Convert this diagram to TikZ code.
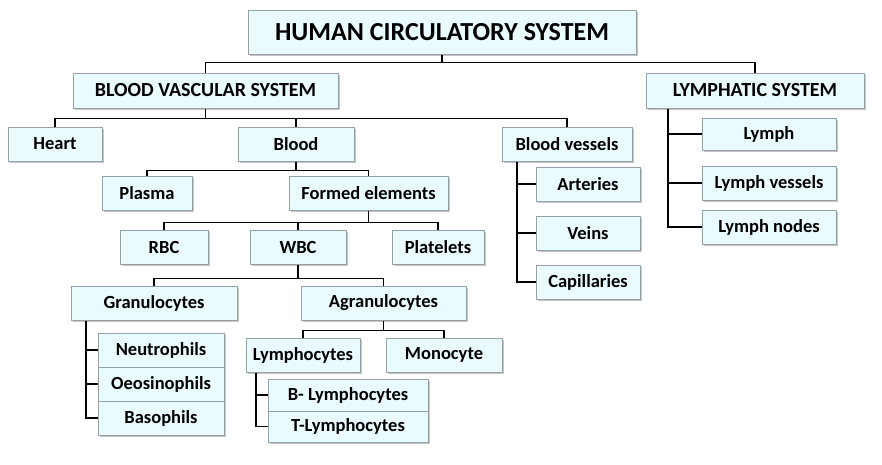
\documentclass[tikz,border=0pt]{standalone}
\usepackage{fontspec}
\setmainfont{Carlito}
\usetikzlibrary{shadows}
\definecolor{boxfill}{RGB}{234,251,253}
\definecolor{boxline}{RGB}{150,160,165}
\tikzset{
  box/.style={draw=boxline, fill=boxfill, line width=1pt, inner sep=0pt,
    drop shadow={shadow xshift=2pt, shadow yshift=-2pt, fill=black!45},
    font=\bfseries\fontsize{18.5}{18.5}\selectfont},
  wire/.style={line width=1.6pt, black}
}
\begin{document}
\begin{tikzpicture}[x=1pt,y=-1pt]
    \useasboundingbox (0,0) rectangle (882,464);
    % top levels
    \node [box, minimum width=388pt, minimum height=44pt, font=\bfseries\fontsize{26}{26}\selectfont] (hcs) at (442,32) {HUMAN CIRCULATORY SYSTEM};
    \node [box, minimum width=265pt, minimum height=35pt, font=\bfseries\fontsize{20}{20}\selectfont] (bvs) at (205.5,90.5) {BLOOD VASCULAR SYSTEM};
    \node [box, minimum width=218pt, minimum height=35pt, font=\bfseries\fontsize{20}{20}\selectfont] (lys) at (755,90.5) {LYMPHATIC SYSTEM};
    \node [box, minimum width=94pt, minimum height=34pt] (heart) at (55,144) {Heart};
    \node [box, minimum width=116pt, minimum height=34pt] (blood) at (296,144) {Blood};
    \node [box, minimum width=130pt, minimum height=34pt] (vessels) at (567,144) {Blood vessels};
    % lymphatic branch
    \node [box, minimum width=134pt, minimum height=32pt] (lymph) at (769,134) {Lymph};
    \node [box, minimum width=134pt, minimum height=34pt] (lvessels) at (769,183) {Lymph vessels};
    \node [box, minimum width=134pt, minimum height=34pt] (lnodes) at (769,227) {Lymph nodes};
    % blood vessels branch
    \node [box, minimum width=104pt, minimum height=34pt] (arteries) at (588,184) {Arteries};
    \node [box, minimum width=104pt, minimum height=34pt] (veins) at (588,233) {Veins};
    \node [box, minimum width=104pt, minimum height=34pt] (capill) at (588,282) {Capillaries};
    % blood branch
    \node [box, minimum width=90pt, minimum height=34pt] (plasma) at (147,193) {Plasma};
    \node [box, minimum width=159pt, minimum height=34pt] (formed) at (368.5,193) {Formed elements};
    \node [box, minimum width=88pt, minimum height=34pt] (rbc) at (164,247) {RBC};
    \node [box, minimum width=96pt, minimum height=34pt] (wbc) at (298,247) {WBC};
    \node [box, minimum width=92pt, minimum height=34pt] (plate) at (438,247) {Platelets};
    \node [box, minimum width=166pt, minimum height=34pt] (gran) at (154,303) {Granulocytes};
    \node [box, minimum width=165pt, minimum height=34pt] (agran) at (383.5,303) {Agranulocytes};
    \node [box, minimum width=126pt, minimum height=34pt] (neutro) at (161,350) {Neutrophils};
    \node [box, minimum width=126pt, minimum height=34pt] (eosino) at (161,384) {Oeosinophils};
    \node [box, minimum width=126pt, minimum height=34pt] (baso) at (161,418) {Basophils};
    \node [box, minimum width=114pt, minimum height=34pt] (lympho) at (303,355) {Lymphocytes};
    \node [box, minimum width=116pt, minimum height=34pt] (mono) at (444,355) {Monocyte};
    \node [box, minimum width=160pt, minimum height=32pt] (blym) at (348,395) {B- Lymphocytes};
    \node [box, minimum width=160pt, minimum height=31pt] (tlym) at (348,426.5) {T-Lymphocytes};
    % connectors
    \draw [wire] (hcs.south) -- ++(0,8) coordinate (j1);
    \draw [wire] (bvs.north) |- (j1) -| (lys.north);
    \draw [wire] (bvs.south) -- ++(0,10) coordinate (j2);
    \draw [wire] (heart.north) |- (j2) -| (vessels.north);
    \draw [wire] (j2) -| (blood.north);
    \draw [wire] (blood.south) -- ++(0,9) coordinate (j3);
    \draw [wire] (plasma.north) |- (j3) -| (formed.north);
    \draw [wire] (formed.south) -- ++(0,12) coordinate (j4);
    \draw [wire] (rbc.north) |- (j4) -| (plate.north);
    \draw [wire] (j4) -| (wbc.north);
    \draw [wire] (wbc.south) -- ++(0,14) coordinate (j5);
    \draw [wire] (gran.north) |- (j5) -| (agran.north);
    \draw [wire] (agran.south) -- ++(0,10) coordinate (j6);
    \draw [wire] (lympho.north) |- (j6) -| (mono.north);
    % side bars
    \coordinate (g0) at ([xshift=-68pt]gran.south);
    \draw [wire] (g0) |- (baso.west);
    \draw [wire] (g0 |- neutro) -- (neutro.west);
    \draw [wire] (g0 |- eosino) -- (eosino.west);
    \coordinate (l0) at ([xshift=-47pt]lympho.south);
    \draw [wire] (l0) |- (tlym.west);
    \draw [wire] (l0 |- blym) -- (blym.west);
    \coordinate (v0) at ([xshift=-50pt]vessels.south);
    \draw [wire] (v0) |- (capill.west);
    \draw [wire] (v0 |- arteries) -- (arteries.west);
    \draw [wire] (v0 |- veins) -- (veins.west);
    \coordinate (y0) at ([xshift=-87pt]lys.south);
    \draw [wire] (y0) |- (lnodes.west);
    \draw [wire] (y0 |- lymph) -- (lymph.west);
    \draw [wire] (y0 |- lvessels) -- (lvessels.west);
\end{tikzpicture}
\end{document}
